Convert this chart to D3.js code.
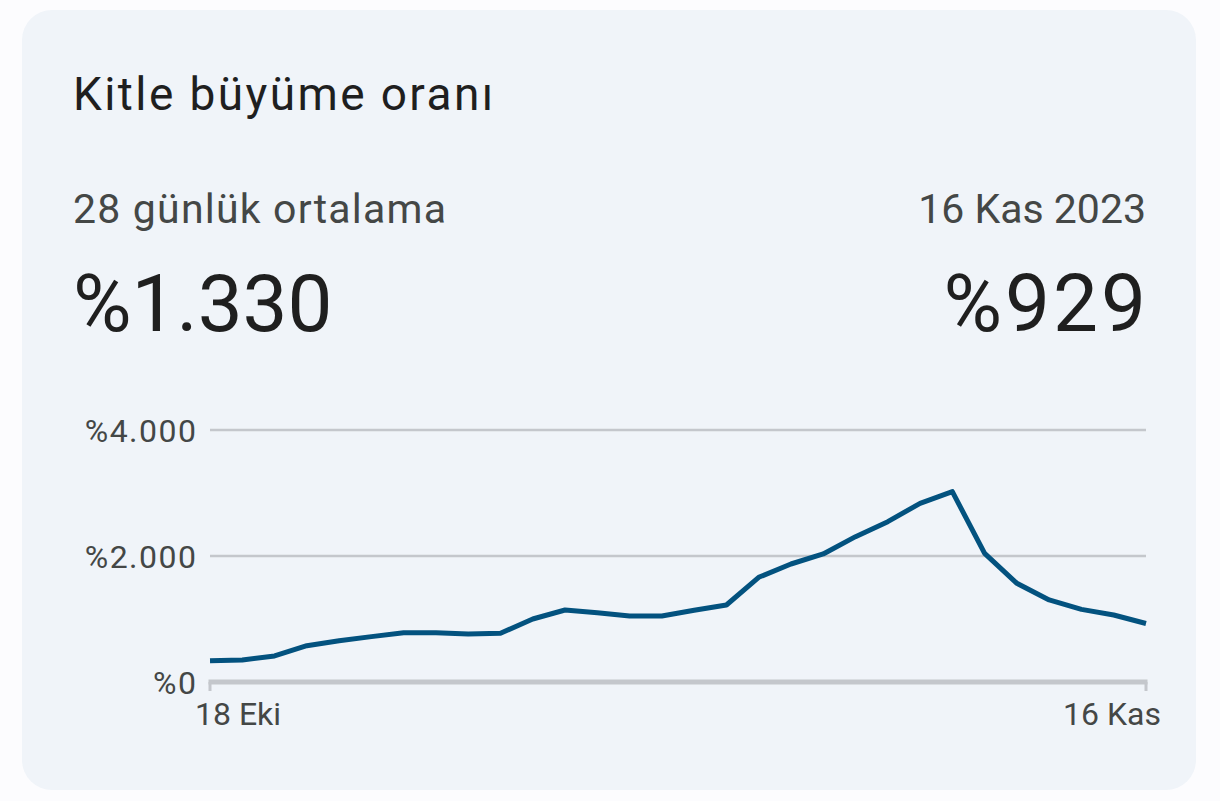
<!DOCTYPE html>
<html>
<head>
<meta charset="utf-8">
<script src="https://cdn.jsdelivr.net/npm/d3@7"></script>
<style>
  html, body { margin: 0; padding: 0; background: #fcfcfe; }
  svg { display: block; font-family: Roboto, "Noto Sans", sans-serif; }
</style>
</head>
<body>
<svg id="chart"></svg>
<script>
// 30 days, 18 Eki .. 16 Kas 2023
const days = d3.range(30);
const values = [
  338, 350, 413, 576, 656, 720, 783, 783, 762, 773,
  1000, 1143, 1100, 1048, 1048, 1140, 1222, 1662, 1873, 2032,
  2307, 2545, 2836, 3021, 2042, 1566, 1302, 1153, 1063, 929
];
const yTicks = [0, 2000, 4000];
const yTickLabels = ['%0', '%2.000', '%4.000'];
const xTickLabels = ['18 Eki', '16 Kas'];

const width = 1220;
const height = 801;

const svg = d3.select('#chart')
  .attr('width', width)
  .attr('height', height);

// card
svg.append('rect')
  .attr('x', 22)
  .attr('y', 10)
  .attr('width', 1174)
  .attr('height', 780)
  .attr('rx', 30)
  .attr('fill', '#f0f4f9');

svg.append('text')
  .attr('x', 73)
  .attr('y', 110)
  .attr('font-size', 46)
  .attr('letter-spacing', 2.4)
  .attr('fill', '#1f1f1f')
  .text('Kitle büyüme oranı');

svg.append('text')
  .attr('x', 73)
  .attr('y', 223)
  .attr('font-size', 41)
  .attr('letter-spacing', 1.2)
  .attr('fill', '#444746')
  .text('28 günlük ortalama');

svg.append('text')
  .attr('x', 1146)
  .attr('y', 223)
  .attr('font-size', 41)
  .attr('text-anchor', 'end')
  .attr('fill', '#444746')
  .text('16 Kas 2023');

svg.append('text')
  .attr('x', 73)
  .attr('y', 331)
  .attr('font-size', 80)
  .attr('fill', '#1f1f1f')
  .text('%1.330');

// letter-spacing leaves a trailing gap, so nudge the end anchor
svg.append('text')
  .attr('x', 1149)
  .attr('y', 331)
  .attr('font-size', 80)
  .attr('letter-spacing', 3)
  .attr('text-anchor', 'end')
  .attr('fill', '#1f1f1f')
  .text('%929');

// plot
const x = d3.scaleLinear()
  .domain([0, days.length - 1])
  .range([210, 1146]);

const y = d3.scaleLinear()
  .domain([0, 4000])
  .range([682, 430]);

const grid = svg.append('g');
grid.selectAll('line')
  .data(yTicks.filter(d => d > 0))
  .enter()
  .append('line')
  .attr('x1', x(0))
  .attr('x2', x(days.length - 1))
  .attr('y1', d => y(d))
  .attr('y2', d => y(d))
  .attr('stroke', '#c4c7cc')
  .attr('stroke-width', 2.5);

const yAxis = svg.append('g')
  .attr('transform', `translate(${x(0) - 12.5},0)`)
  .call(d3.axisLeft(y)
    .tickValues(yTicks)
    .tickFormat((d, i) => yTickLabels[i])
    .tickSize(0)
    .tickPadding(0));
yAxis.select('.domain').remove();
yAxis.selectAll('text')
  .attr('font-size', 32)
  .attr('letter-spacing', 1.5)
  .attr('font-family', 'Roboto, sans-serif')
  .attr('fill', '#444746')
  .attr('dy', '0.36em');

// baseline + end ticks
svg.append('line')
  .attr('x1', x(0) - 1.5)
  .attr('x2', x(days.length - 1) + 1.5)
  .attr('y1', y(0))
  .attr('y2', y(0))
  .attr('stroke', '#c4c7cc')
  .attr('stroke-width', 5);

const xEnds = [0, days.length - 1];
svg.selectAll('.xtick')
  .data(xEnds)
  .enter()
  .append('line')
  .attr('class', 'xtick')
  .attr('x1', d => x(d))
  .attr('x2', d => x(d))
  .attr('y1', y(0))
  .attr('y2', y(0) + 9)
  .attr('stroke', '#c4c7cc')
  .attr('stroke-width', 3);

svg.selectAll('.xlabel')
  .data(xEnds)
  .enter()
  .append('text')
  .attr('class', 'xlabel')
  .attr('x', (d, i) => i === 0 ? x(d) - 15 : x(d) + 15)
  .attr('y', 725)
  .attr('text-anchor', (d, i) => i === 0 ? 'start' : 'end')
  .attr('font-size', 32)
  .attr('fill', '#444746')
  .text((d, i) => xTickLabels[i]);

const line = d3.line()
  .x((d, i) => x(days[i]))
  .y(d => y(d));

svg.append('path')
  .datum(values)
  .attr('d', line)
  .attr('fill', 'none')
  .attr('stroke', '#03527f')
  .attr('stroke-width', 5)
  .attr('stroke-linejoin', 'round');
</script>
</body>
</html>
